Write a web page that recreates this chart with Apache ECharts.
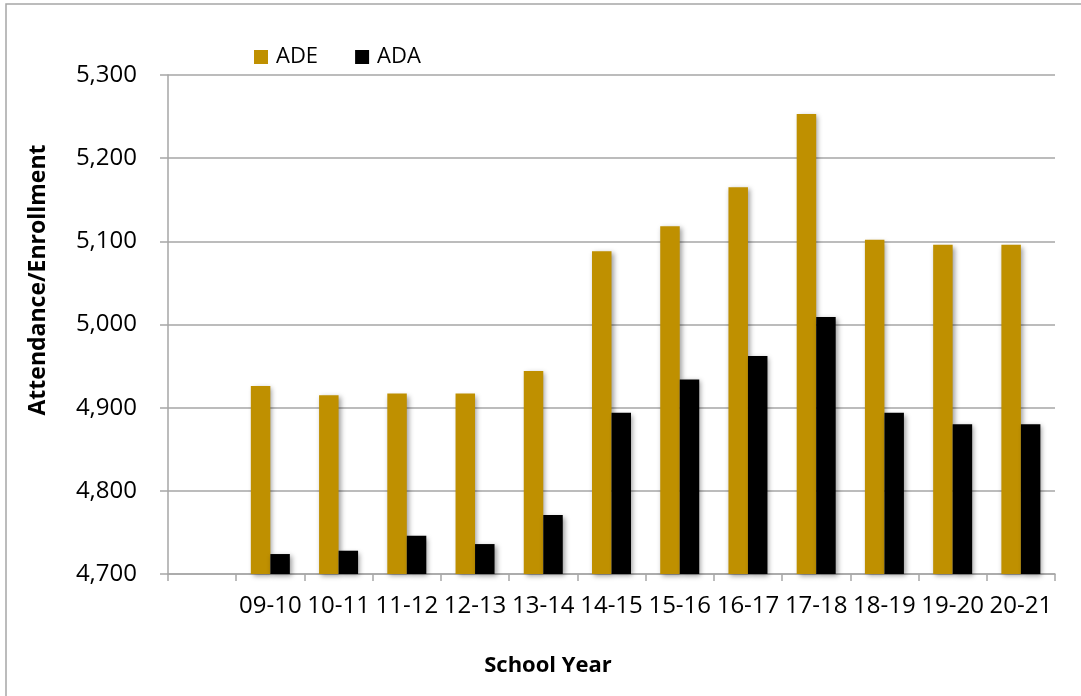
<!DOCTYPE html>
<html>
<head>
<meta charset="utf-8">
<title>Attendance and Enrollment by School Year</title>
<script src="https://cdn.jsdelivr.net/npm/echarts@6/dist/echarts.min.js"></script>
<style>
  html, body { margin: 0; padding: 0; background: #ffffff; }
  #chart { width: 1081px; height: 696px; }
</style>
</head>
<body>
<div id="chart"></div>
<script>
// School years (the first slot on the axis is left blank)
const schoolYears = ['', '09-10', '10-11', '11-12', '12-13', '13-14', '14-15', '15-16', '16-17', '17-18', '18-19', '19-20', '20-21'];
// Average Daily Enrollment
const adeValues = [null, 4926, 4915, 4917, 4917, 4944, 5088, 5118, 5165, 5253, 5102, 5096, 5096];
// Average Daily Attendance
const adaValues = [null, 4724, 4728, 4746, 4736, 4771, 4894, 4934, 4962, 5009, 4894, 4880, 4880];
// Value axis range and step
const yMin = 4700;
const yMax = 5300;
const yStep = 100;

const FONT = '"Open Sans", "Noto Sans", sans-serif';
const GRID_GRAY = '#a6a6a6';

const barShadow = {
  shadowColor: 'rgba(0,0,0,0.38)',
  shadowBlur: 5,
  shadowOffsetX: 2,
  shadowOffsetY: 2
};

const chart = echarts.init(document.getElementById('chart'), null, { renderer: 'canvas' });

chart.setOption({
  animation: false,
  backgroundColor: '#ffffff',
  grid: { left: 168, right: 26, top: 75, bottom: 122, containLabel: false },
  legend: {
    left: 254,
    top: 46,
    padding: 0,
    itemWidth: 14,
    itemHeight: 14,
    itemGap: 37,
    icon: 'rect',
    textStyle: { fontFamily: FONT, fontSize: 22, color: '#000', padding: [0, 0, 0, 3] },
    data: [
      { name: 'ADE', itemStyle: { color: '#bf9000', shadowBlur: 0, shadowOffsetX: 0, shadowOffsetY: 0 } },
      { name: 'ADA', itemStyle: { color: '#000000', shadowBlur: 0, shadowOffsetX: 0, shadowOffsetY: 0 } }
    ]
  },
  xAxis: {
    type: 'category',
    data: schoolYears,
    axisLine: { lineStyle: { color: GRID_GRAY, width: 1.5 } },
    axisTick: { show: true, length: 7, lineStyle: { color: GRID_GRAY, width: 1.5 } },
    axisLabel: { interval: 0, margin: 20, fontFamily: FONT, fontSize: 24, color: '#000' },
    splitLine: { show: false }
  },
  yAxis: {
    type: 'value',
    min: yMin,
    max: yMax,
    interval: yStep,
    axisLine: { show: true, lineStyle: { color: GRID_GRAY, width: 1.5 } },
    axisTick: { show: true, length: 8, lineStyle: { color: GRID_GRAY, width: 1.5 } },
    axisLabel: {
      margin: 31,
      fontFamily: FONT,
      fontSize: 24,
      color: '#000',
      formatter: v => v.toLocaleString('en-US')
    },
    splitLine: { show: true, lineStyle: { color: GRID_GRAY, width: 1.5 } }
  },
  series: [
    {
      name: 'ADE',
      type: 'bar',
      data: adeValues,
      barWidth: 19.5,
      barGap: '0%',
      itemStyle: Object.assign({ color: '#bf9000' }, barShadow)
    },
    {
      name: 'ADA',
      type: 'bar',
      data: adaValues,
      barWidth: 19.5,
      barGap: '0%',
      itemStyle: Object.assign({ color: '#000000' }, barShadow)
    }
  ],
  graphic: [
    {
      type: 'rect',
      shape: { x: 6, y: 4, width: 1200, height: 800 },
      style: { fill: 'none', stroke: '#a6a6a6', lineWidth: 1.5 },
      silent: true,
      z: -1
    },
    {
      type: 'text',
      x: 38,
      y: 280,
      rotation: Math.PI / 2,
      style: {
        text: 'Attendance/Enrollment',
        fontFamily: FONT,
        fontWeight: 'bold',
        fontSize: 23,
        fill: '#000',
        align: 'center',
        verticalAlign: 'middle'
      }
    },
    {
      type: 'text',
      x: 548,
      y: 666,
      style: {
        text: 'School Year',
        fontFamily: FONT,
        fontWeight: 'bold',
        fontSize: 22,
        fill: '#000',
        align: 'center',
        verticalAlign: 'middle'
      }
    }
  ]
});
</script>
</body>
</html>
